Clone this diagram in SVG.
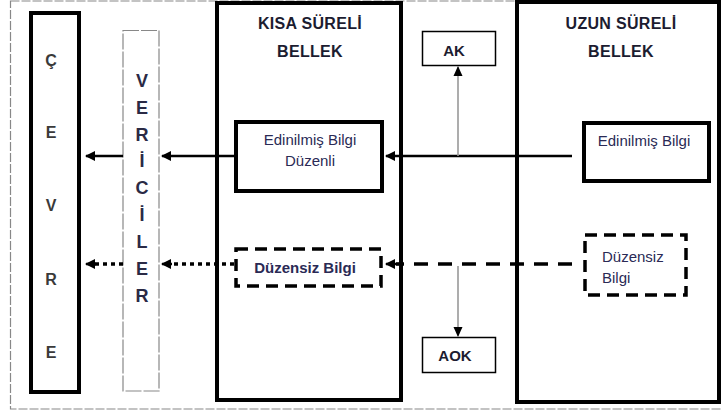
<svg xmlns="http://www.w3.org/2000/svg" width="721" height="414" viewBox="0 0 721 414">
<style>
.bg{fill:#fff}
.thick{fill:#fff;stroke:#000;stroke-width:4}
.thin{fill:#fff;stroke:#000;stroke-width:1.5}
.dbox{fill:#fff;stroke:#000;stroke-width:3.5;stroke-dasharray:12 7}
.head{font-family:"Liberation Sans",Arial,sans-serif;font-weight:bold;font-size:16px;letter-spacing:0.3px;fill:#1c1c30;text-anchor:middle}
.lbl{font-family:"Liberation Sans",Arial,sans-serif;font-size:15px;fill:#2a2a55;text-anchor:middle}
.lbls{font-family:"Liberation Sans",Arial,sans-serif;font-size:15px;fill:#2a2a55;text-anchor:start}
.lblb{font-family:"Liberation Sans",Arial,sans-serif;font-weight:bold;font-size:15px;fill:#2a2a55;text-anchor:middle}
.let{font-family:"Liberation Sans",Arial,sans-serif;font-weight:bold;font-size:16px;fill:#3a3a3a;text-anchor:middle}
.let2{font-family:"Liberation Sans",Arial,sans-serif;font-weight:bold;font-size:18px;fill:#2a2a45;text-anchor:middle}
.solid{stroke:#000;stroke-width:2.5;fill:none}
.dash{stroke:#000;stroke-width:3.5;stroke-dasharray:14 10;fill:none}
.dot{stroke:#000;stroke-width:3.5;stroke-dasharray:4 4;fill:none}
.gray{stroke:#999;stroke-width:1.6;fill:none}
</style>
<defs>
<marker id="ah" markerWidth="10" markerHeight="10" refX="9" refY="5" orient="auto" markerUnits="userSpaceOnUse">
<path d="M0,0 L10,5 L0,10 z" fill="#000"/>
</marker>
<marker id="ahs" markerWidth="10" markerHeight="10" refX="9" refY="5" orient="auto" markerUnits="userSpaceOnUse">
<path d="M0,0.5 L10,5 L0,9.5 z" fill="#000"/>
</marker>
</defs>
<rect class="bg" x="0" y="0" width="721" height="414"/>
<rect x="10.5" y="1" width="712" height="408" fill="none" stroke="#888" stroke-width="1.2" stroke-dasharray="9 2"/>

<g id="cevre">
<rect class="thick" x="31" y="13" width="48" height="379"/>
<text class="let" x="51" y="66">Ç</text>
<text class="let" x="51" y="138">E</text>
<text class="let" x="51" y="211">V</text>
<text class="let" x="51" y="285">R</text>
<text class="let" x="51" y="358">E</text>
</g>

<g id="veriler">
<rect x="123" y="30.5" width="36" height="360.5" fill="#fff" stroke="#888" stroke-width="1.2" stroke-dasharray="16 2"/>
<text class="let2" x="142" y="87">V</text>
<text class="let2" x="142" y="114">E</text>
<text class="let2" x="142" y="141">R</text>
<text class="let2" x="142" y="167">İ</text>
<text class="let2" x="142" y="194">C</text>
<text class="let2" x="142" y="221">İ</text>
<text class="let2" x="142" y="248">L</text>
<text class="let2" x="142" y="275">E</text>
<text class="let2" x="142" y="302">R</text>
</g>

<g id="kisa">
<rect class="thick" x="217" y="3" width="184" height="397"/>
<text class="head" x="310" y="29">KISA SÜRELİ</text>
<text class="head" x="310" y="57">BELLEK</text>
</g>

<g id="uzun">
<rect class="thick" x="517" y="2" width="202" height="400"/>
<text class="head" x="621" y="29">UZUN SÜRELİ</text>
<text class="head" x="621" y="57">BELLEK</text>
</g>

<g id="ak">
<rect class="thin" x="422.5" y="31.5" width="73" height="34"/>
<text class="lblb" x="454" y="56" style="fill:#1c1c30">AK</text>
</g>

<g id="aok">
<rect class="thin" x="422.5" y="337.5" width="73" height="35"/>
<text class="lblb" x="455" y="361" style="fill:#1c1c30">AOK</text>
</g>

<g id="connectors">
<line class="solid" x1="572" y1="156" x2="386" y2="156" marker-end="url(#ah)"/>
<line class="solid" x1="234" y1="156" x2="162" y2="156" marker-end="url(#ah)"/>
<line class="solid" x1="123" y1="156" x2="86" y2="156" marker-end="url(#ah)"/>
<line class="gray" x1="458" y1="156" x2="458" y2="67" marker-end="url(#ahs)"/>
<line class="dash" x1="572" y1="264" x2="396" y2="264"/>
<line class="solid" x1="400" y1="264" x2="386" y2="264" marker-end="url(#ah)"/>
<line class="dot" x1="234" y1="264" x2="170" y2="264"/>
<line class="solid" x1="172" y1="264" x2="162" y2="264" marker-end="url(#ah)"/>
<line class="dot" x1="123" y1="264" x2="94" y2="264"/>
<line class="solid" x1="96" y1="264" x2="86" y2="264" marker-end="url(#ah)"/>
<line class="gray" x1="458" y1="266" x2="458" y2="336" marker-end="url(#ahs)"/>
</g>

<g id="edinilmis-duzenli">
<rect class="thick" x="236" y="122" width="146" height="69"/>
<text class="lbl" x="310" y="145">Edinilmiş Bilgi</text>
<text class="lbl" x="310" y="166">Düzenli</text>
</g>

<g id="edinilmis-uzun">
<rect class="thick" x="584" y="123" width="125" height="58"/>
<text class="lbl" x="644" y="146">Edinilmiş Bilgi</text>
</g>

<g id="duzensiz-kisa">
<rect class="dbox" x="236" y="249" width="145" height="37"/>
<text class="lblb" x="305" y="273">Düzensiz Bilgi</text>
</g>

<g id="duzensiz-uzun">
<rect class="dbox" x="585" y="235" width="101" height="60"/>
<text class="lbls" x="602" y="262">Düzensiz</text>
<text class="lbls" x="602" y="283">Bilgi</text>
</g>
</svg>
